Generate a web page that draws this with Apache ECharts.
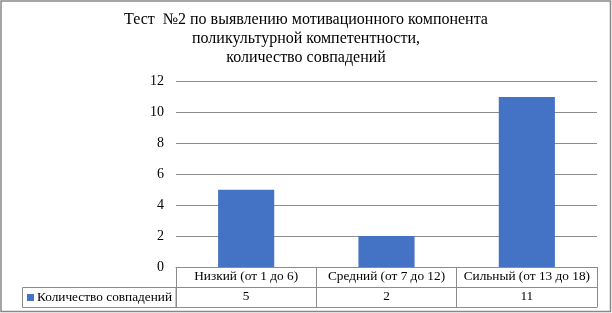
<!DOCTYPE html>
<html>
<head>
<meta charset="utf-8">
<script src="https://cdn.jsdelivr.net/npm/echarts@6/dist/echarts.min.js"></script>
<style>
  html, body { margin: 0; padding: 0; background: #fff; }
  #main { width: 612px; height: 313px; }
</style>
</head>
<body>
<div id="main"></div>
<script>
var titleLines = ['Тест  №2 по выявлению мотивационного компонента', 'поликультурной компетентности,', 'количество совпадений'];
var categories = ['Низкий (от 1 до 6)', 'Средний (от 7 до 12)', 'Сильный (от 13 до 18)'];
var seriesName = 'Количество совпадений';
var values = [5, 2, 11];

var serif = '"Liberation Serif", "Times New Roman", serif';
var lineColor = '#8c8c8c';

var chart = echarts.init(document.getElementById('main'), null, { renderer: 'canvas' });

var options = {
  animation: false,
  backgroundColor: '#fff',
  title: {
    text: titleLines.join('\n'),
    left: 'center',
    top: 5,
    textStyle: {
      fontFamily: serif,
      fontSize: 16,
      fontWeight: 'normal',
      color: '#000',
      lineHeight: 19.2
    }
  },
  legend: {
    data: [seriesName],
    left: 22,
    top: 286,
    icon: 'rect',
    itemWidth: 7,
    itemHeight: 7,
    itemGap: 4,
    textStyle: { fontFamily: serif, fontSize: 13.3, color: '#000', padding: [0, 0, 0, -2] }
  },
  grid: { left: 176, right: 15, top: 81.5, bottom: 46 },
  yAxis: {
    type: 'value',
    min: 0,
    max: 12,
    interval: 2,
    axisLine: { show: false },
    axisTick: { show: false },
    axisLabel: { fontFamily: serif, fontSize: 14, color: '#000', margin: 12 },
    splitLine: { lineStyle: { color: lineColor, width: 1 } }
  },
  xAxis: [
    {
      type: 'category',
      data: categories,
      axisLine: { show: true, lineStyle: { color: lineColor } },
      axisTick: { show: true, length: 20, lineStyle: { color: lineColor } },
      axisLabel: { fontFamily: serif, fontSize: 13.3, color: '#000', margin: 3, interval: 0 }
    },
    {
      type: 'category',
      data: values.map(String),
      position: 'bottom',
      offset: 20,
      axisLine: { show: true, lineStyle: { color: lineColor } },
      axisTick: { show: true, length: 20, lineStyle: { color: lineColor } },
      axisLabel: { fontFamily: serif, fontSize: 13.3, color: '#000', margin: 3, interval: 0 }
    },
    {
      type: 'category',
      data: values.map(String),
      position: 'bottom',
      offset: 40,
      axisLine: { show: true, lineStyle: { color: lineColor } },
      axisTick: { show: false },
      axisLabel: { show: false }
    }
  ],
  series: [
    {
      name: seriesName,
      type: 'bar',
      xAxisIndex: 0,
      data: values,
      barWidth: '40%',
      itemStyle: { color: '#4472C4' }
    }
  ],
  graphic: [
    {
      type: 'rect',
      shape: { x: 22.5, y: 287.5, width: 153.5, height: 20 },
      style: { fill: 'none', stroke: lineColor, lineWidth: 1 },
      silent: true
    },
    {
      type: 'rect',
      shape: { x: 1, y: 1, width: 609.5, height: 310.5 },
      style: { fill: 'none', stroke: '#888', lineWidth: 1.5 },
      silent: true
    }
  ]
};

chart.setOption(options);
</script>
</body>
</html>
